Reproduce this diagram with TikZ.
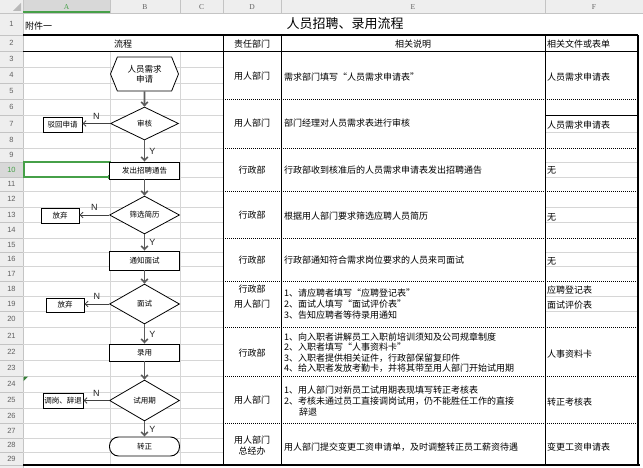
\documentclass[tikz,border=0pt]{standalone}
\usepackage{fontspec}
\setmainfont{Noto Sans CJK SC}
\newfontfamily\headfont{Liberation Serif}
\newfontfamily\numfont{Liberation Sans}
\usepackage{tikz}
\usetikzlibrary{arrows.meta,positioning,shapes.geometric,shapes.symbols}

\definecolor{gridgray}{RGB}{214,214,214}
\definecolor{headgray}{RGB}{238,238,238}
\definecolor{headsel}{RGB}{216,216,216}
\definecolor{headline}{RGB}{196,196,196}
\definecolor{headtext}{RGB}{96,96,96}
\definecolor{selgreen}{RGB}{70,160,72}
\definecolor{arrowgray}{RGB}{92,92,92}

\begin{document}
\begin{tikzpicture}[x=1pt,y=-1pt,
  every node/.style={inner sep=0pt},
  cjk/.style={font=\fontsize{9}{10.8}\selectfont},
  flow/.style={font=\fontsize{7.5}{9}\selectfont},
  colhead/.style={font=\headfont\fontsize{7.5}{8}\selectfont,text=headtext},
  rowhead/.style={font=\numfont\fontsize{7.5}{8}\selectfont,text=headtext},
  hexa/.style={draw,fill=white,shape=signal,signal to=west and east,signal pointer angle=136,
    minimum width=68pt,minimum height=34pt,line width=0.8pt,align=center,font=\fontsize{8.5}{10}\selectfont},
  box/.style={draw,fill=white,line width=0.9pt,flow,minimum width=70pt,minimum height=17pt},
  sidebox/.style={draw,fill=white,line width=0.9pt,flow,minimum width=39pt,minimum height=15pt},
  check/.style={draw,fill=white,diamond,line width=0.8pt,flow,minimum width=70pt},
  flowarrow/.style={arrowgray,line width=1.6pt,-{Straight Barb[length=3.5pt,width=6.5pt]}},
  noarrow/.style={arrowgray!70!black,line width=0.8pt,-{Straight Barb[length=3pt,width=5.5pt]}},
  yn/.style={font=\numfont\fontsize{9}{10}\selectfont,text=black!85},
  note/.style={cjk,anchor=west,align=left},
  dept/.style={cjk,align=center}]
\useasboundingbox (0,0) rectangle (643,468);
\fill[white] (0,0) rectangle (643,468);

% sheet headers
\fill[headgray] (0,0) rectangle (643,13);
\fill[headgray] (0,13) rectangle (23,468);
\fill[headsel] (23,0) rectangle (110,13);
\fill[headsel] (0,162) rectangle (23,177);
\foreach \x in {23,110,180,223,281,545} \draw[headline] (\x,0) -- (\x,13);
\draw[headline] (0,13) -- (643,13);
\draw[headline] (23,13) -- (23,468);
\fill[gray!55] (21,3) -- (21,11) -- (13,11) -- cycle;
\foreach \c/\x in {B/145,C/201.5,D/252,E/413,F/594}
  \node[colhead] at (\x,7) {\c};
\node[colhead,text=selgreen] at (66.5,7) {A};
\draw[selgreen,line width=1.6pt] (23,12.2) -- (110,12.2);
\foreach \r/\ya/\yb in {1/13/35,2/35/51.7,3/51.7/67,4/67/83,5/83/99,6/99/115,7/115/132,
    8/132/148,9/148/162,11/177/191,12/191/207,13/207/222,14/222/238,15/238/252,
    16/252/266,17/266/281,18/281/296,19/296/311,20/311/327,21/327/344,22/344/360,
    23/360/376,24/376/392,25/392/408,26/408/423,27/423/438,28/438/452,29/452/465}{
  \draw[headline] (0,\yb) -- (23,\yb);
  \node[rowhead] at (11.5,{(\ya+\yb)/2}) {\r};
}
\draw[headline] (0,177) -- (23,177);
\node[rowhead,text=selgreen] at (11.5,169.5) {10};

% cell grid
\foreach \y in {67,83,99,115,132,148,162,177,191,207,222,238,252,266,281,296,311,
    327,344,360,376,392,408,423,438,452}
  \draw[gridgray] (23,\y) -- (223,\y);
\draw[gridgray] (110,51.7) -- (110,465) (180,51.7) -- (180,465);
\foreach \y in {132,162,177,207,222,252,266,296,311}
  \draw[gridgray] (545,\y) -- (638,\y);
\draw[line width=0.6pt] (545,115) -- (638,115);

% table borders
\foreach \y in {99,148,191,238,281,327,376,423}
  \draw[dash pattern=on 1pt off 1pt] (223,\y) -- (638,\y);
\draw[line width=1.2pt] (23,35) -- (638,35) (23,51.7) -- (638,51.7);
\foreach \x in {223,281,545} \draw[line width=1pt] (\x,35) -- (\x,465);
\draw[line width=2pt] (638,35) -- (638,465);
\draw[line width=2.6pt] (23,465) -- (640,465);

% selected cell
\draw[selgreen,line width=2pt] (24,162.5) rectangle (110,177);
\fill[selgreen] (108,175) rectangle (112.5,179.5);
\fill[selgreen!80!black] (23.5,376.5) -- (28,376.5) -- (23.5,381) -- cycle;

% titles
\node[cjk,anchor=west] (annex) at (25,26) {附件一};
\node[font=\fontsize{13}{15}\selectfont] (title) at (345,24) {人员招聘、录用流程};
\node[cjk] (hflow) at (123,44) {流程};
\node[cjk] (hdept) at (252,44) {责任部门};
\node[cjk] (hnote) at (413,44) {相关说明};
\node[cjk,anchor=west] (hform) at (547,44) {相关文件或表单};

% flow chart
\node[hexa] (apply) at (144.5,74) {人员需求\\申请};
\node[check,minimum width=68pt,minimum height=33pt] (review) at (144.5,123.5) {审核};
\node[sidebox] (reject) at (62.5,125) {驳回申请};
\node[box] (notice) at (144.5,170.5) {发出招聘通告};
\node[check,minimum height=38pt] (screen) at (144.5,215) {筛选简历};
\node[sidebox,minimum width=38pt] (quit1) at (60,215.5) {放弃};
\node[box,minimum height=19pt] (invite) at (144.5,260.5) {通知面试};
\node[check,minimum height=40pt] (interview) at (144.5,304) {面试};
\node[sidebox,minimum width=38pt,minimum height=14pt] (quit2) at (65,305) {放弃};
\node[box] (hire) at (144.5,352.5) {录用};
\node[check,minimum height=41pt] (trial) at (144.5,400.5) {试用期};
\node[sidebox,minimum width=40pt] (transfer) at (63,400.5) {调岗、辞退};
\node[box,rounded corners=9pt,minimum height=19pt] (regular) at (144.5,446.5) {转正};

\draw[flowarrow] (apply) -- (review);
\draw[noarrow] (review.west) -- (review.west -| reject.east) node[pos=0.5,above=4pt,yn] {N};
\draw[flowarrow] (review) -- (notice) node[pos=0.5,right=4pt,yn] {Y};
\draw[flowarrow] (notice) -- (screen);
\draw[noarrow] (screen.west) -- (screen.west -| quit1.east) node[pos=0.5,above=4pt,yn] {N};
\draw[flowarrow] (screen) -- (invite) node[pos=0.5,right=4pt,yn] {Y};
\draw[flowarrow] (invite) -- (interview);
\draw[noarrow] (interview.west) -- (interview.west -| quit2.east) node[pos=0.5,above=4pt,yn] {N};
\draw[flowarrow] (interview) -- (hire) node[pos=0.5,right=4pt,yn] {Y};
\draw[flowarrow] (hire) -- (trial);
\draw[noarrow] (trial.west) -- (trial.west -| transfer.east) node[pos=0.5,above=4pt,yn] {N};
\draw[flowarrow] (trial) -- (regular) node[pos=0.5,right=4pt,yn] {Y};

% departments
\node[dept] (d1) at (252,76) {用人部门};
\node[dept] (d2) at (252,123.5) {用人部门};
\node[dept] (d3) at (252,170) {行政部};
\node[dept] (d4) at (252,215) {行政部};
\node[dept] (d5) at (252,260) {行政部};
\node[dept] (d6a) at (252,289) {行政部};
\node[dept] (d6b) at (252,304.5) {用人部门};
\node[dept] (d7) at (252,353) {行政部};
\node[dept] (d8) at (252,400.5) {用人部门};
\node[dept] (d9) at (252,445.5) {用人部门\\总经办};

% notes
\node[note] (e1) at (284,77) {需求部门填写“人员需求申请表”};
\node[note] (e2) at (284,123.5) {部门经理对人员需求表进行审核};
\node[note] (e3) at (284,170) {行政部收到核准后的人员需求申请表发出招聘通告};
\node[note] (e4) at (284,216) {根据用人部门要求筛选应聘人员简历};
\node[note] (e5) at (284,260.5) {行政部通知符合需求岗位要求的人员来司面试};
\node[note] (e6) at (284,304) {1、请应聘者填写“应聘登记表”\\2、面试人填写“面试评价表”\\3、告知应聘者等待录用通知};
\node[note,font=\fontsize{9}{10.4}\selectfont] (e7) at (284,352.5) {1、向入职者讲解员工入职前培训须知及公司规章制度\\2、入职者填写“人事资料卡”\\3、入职者提供相关证件，行政部保留复印件\\4、给入职者发放考勤卡，并将其带至用人部门开始试用期};
\node[note] (e8) at (284,401) {1、用人部门对新员工试用期表现填写转正考核表\\2、考核未通过员工直接调岗试用，仍不能胜任工作的直接\\\hspace*{15pt}辞退};
\node[note] (e9) at (284,447) {用人部门提交变更工资申请单，及时调整转正员工薪资待遇};

% forms
\node[note] (f1) at (547,77) {人员需求申请表};
\node[note] (f2) at (547,125) {人员需求申请表};
\node[note] (f3) at (547,170) {无};
\node[note] (f4) at (547,217) {无};
\node[note] (f5) at (547,261) {无};
\node[note] (f6) at (547,290) {应聘登记表};
\node[note] (f7) at (547,305) {面试评价表};
\node[note] (f8) at (547,354) {人事资料卡};
\node[note] (f9) at (547,402) {转正考核表};
\node[note] (f10) at (547,447) {变更工资申请表};
\end{tikzpicture}
\end{document}
